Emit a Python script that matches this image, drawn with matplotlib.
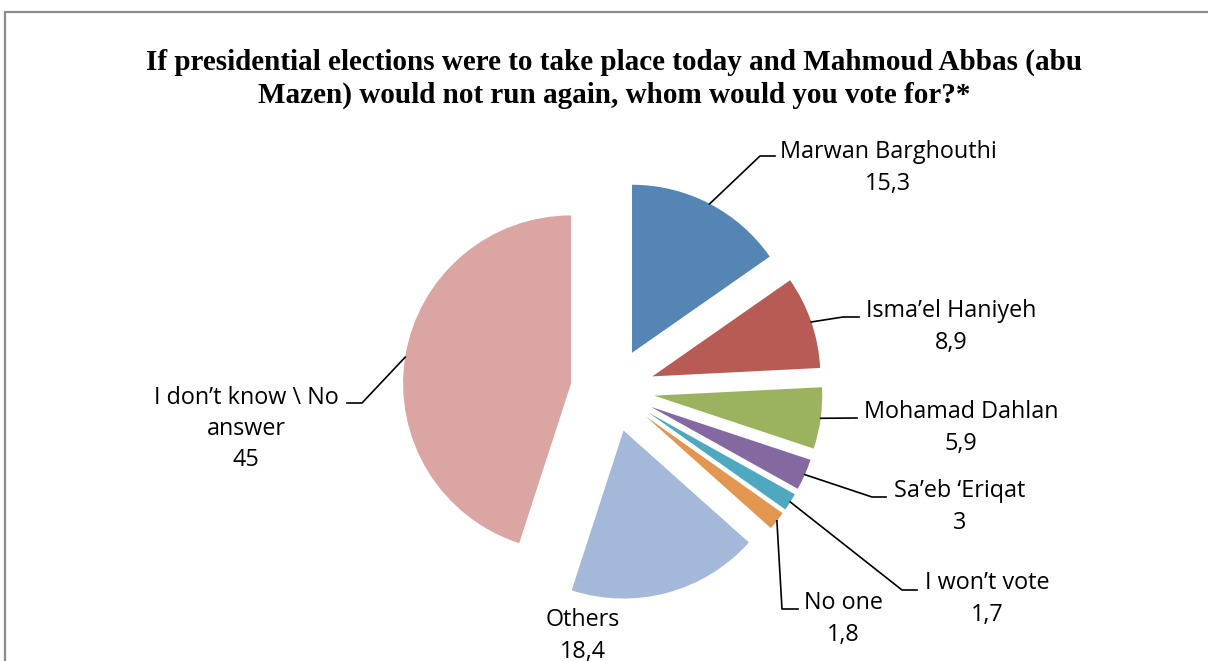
import math
import matplotlib
matplotlib.use("Agg")
import matplotlib.pyplot as plt

labels = ["Marwan Barghouthi", "Isma\u2019el Haniyeh", "Mohamad Dahlan", "Sa\u2019eb \u2018Eriqat",
          "I won\u2019t vote", "No one", "Others", "I don\u2019t know \\ No\nanswer"]
values = [15.3, 8.9, 5.9, 3, 1.7, 1.8, 18.4, 45]
value_text = ["15,3", "8,9", "5,9", "3", "1,7", "1,8", "18,4", "45"]
colors = ["#5585B5", "#B95B55", "#9BB35E", "#8469A0", "#4EA8C0", "#E3964F", "#A4B8D9", "#DAA5A2"]

W, H = 1208, 661
fig = plt.figure(figsize=(W / 100, H / 100), dpi=100)
ax = fig.add_axes([0, 0, 1, 1])
ax.axis("off")

cx, cy = 612.6, H - 390
radius = 168
explode = 42

wedges, _ = ax.pie(values, colors=colors, radius=radius, center=(cx, cy),
                   startangle=90, counterclock=False, explode=[explode] * len(values),
                   wedgeprops=dict(linewidth=0))
ax.set_xlim(0, W)
ax.set_ylim(0, H)
ax.set_aspect("equal")

# border of the chart area (cropped at right and bottom)
ax.plot([5, 5, W], [0, H - 12, H - 12], color="#8C8C8C", lw=1.6, solid_capstyle="butt")

title_font = dict(ha="center", va="center", fontsize=21, fontweight="bold", family="Liberation Serif")
ax.text(614, H - 62, "If presidential elections were to take place today and Mahmoud Abbas (abu", **title_font)
ax.text(614, H - 95, "Mazen) would not run again, whom would you vote for?*", **title_font)


def edge_point(i, frac=0.5):
    # point on the outer arc of wedge i
    w = wedges[i]
    a = math.radians(w.theta1 + (w.theta2 - w.theta1) * frac)
    return w.center[0] + radius * math.cos(a), w.center[1] + radius * math.sin(a)


# label layout (pixel coords from top): text centre and leader bends
label_pos = [(888, 168), (951, 327), (961, 428), (960, 507), (987, 599), (843, 619), (583, 636), (246, 429)]
leaders = [
    [(760, 156), (775, 156)],
    [(843, 317), (859, 317)],
    [(857, 418)],
    [(872, 497), (886, 497)],
    [(902, 590), (917, 590)],
    [(782, 609), (798, 609)],
    None,
    [(362, 403), (347, 403)],
]

for i, (lab, val) in enumerate(zip(labels, value_text)):
    x, y = label_pos[i]
    ax.text(x, H - y, lab + "\n" + val, ha="center", va="center", fontsize=16.8,
            family="Open Sans", linespacing=1.4, color="#000000")
    if leaders[i] is not None:
        px, py = edge_point(i)
        xs = [px] + [p[0] for p in leaders[i]]
        ys = [py] + [H - p[1] for p in leaders[i]]
        ax.plot(xs, ys, color="black", lw=1.2)

fig.savefig("out.png", dpi=100)
